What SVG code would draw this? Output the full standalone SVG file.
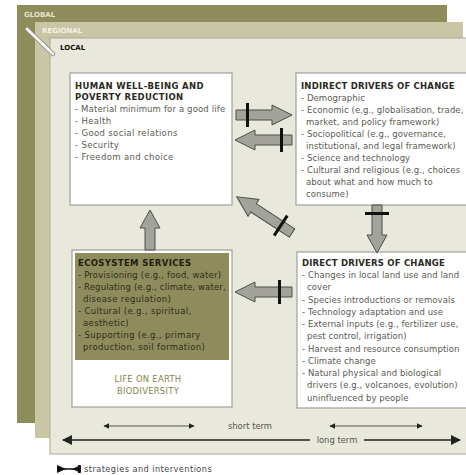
<svg xmlns="http://www.w3.org/2000/svg" width="466" height="475" viewBox="0 0 466 475">
<defs>
<style>
text{font-family:"DejaVu Sans",Verdana,sans-serif;}
.t{font-size:8.5px;letter-spacing:0.35px;fill:#5a5a52;}
.h{font-size:8.5px;letter-spacing:0.35px;font-weight:bold;fill:#2a2a22;}
.tr{font-size:8.5px;letter-spacing:0.08px;fill:#5a5a52;}
.hr{font-size:8.5px;letter-spacing:0.2px;font-weight:bold;fill:#2a2a22;}
.eco{font-size:8.5px;letter-spacing:0.35px;fill:#2e2d18;}
.box{fill:#ffffff;stroke:#a0a09a;stroke-width:1.2;}
.fat{fill:#a3a39c;stroke:#4e4e4a;stroke-width:1;}
.bar{fill:#111;}
.tl{stroke:#55554e;fill:none;}
</style>
<marker id="ah" viewBox="0 0 10 10" refX="9" refY="5" markerWidth="6" markerHeight="6" orient="auto-start-reverse" markerUnits="userSpaceOnUse"><path d="M0,0 L10,5 L0,10 Z" fill="#222"/></marker>
<marker id="ahL" viewBox="0 0 10 10" refX="9" refY="5" markerWidth="10" markerHeight="10" orient="auto-start-reverse" markerUnits="userSpaceOnUse"><path d="M0,0 L10,5 L0,10 Z" fill="#222"/></marker>
<clipPath id="cpE"><rect x="75" y="253" width="154" height="107"/></clipPath>
</defs>

<g id="layers">
<rect x="17" y="5" width="430" height="418" fill="#8e8c5a"/>
<rect x="35" y="22" width="428" height="416" fill="#c8c6a4"/>
<rect x="50" y="38" width="430" height="416" fill="#e9e8dc" stroke="#a9a89a" stroke-width="1"/>
<text x="24" y="17" style="font-size:7px;font-weight:bold;fill:#e6e5cf">GLOBAL</text>
<text x="42" y="33" style="font-size:7px;font-weight:bold;fill:#f2f1e4">REGIONAL</text>
<text x="60" y="50" style="font-size:7px;font-weight:bold;fill:#111">LOCAL</text>
<path d="M27,29 L53,54" stroke="#8c8c84" stroke-width="4.5" stroke-linecap="round"/>
<path d="M27,29 L53,54" stroke="#ffffff" stroke-width="2.6" stroke-linecap="round"/>
</g>

<g id="human">
<rect class="box" x="70" y="73" width="162" height="132"/>
<text class="h" x="75" y="89">HUMAN WELL-BEING AND</text>
<text class="h" x="75" y="100">POVERTY REDUCTION</text>
<text class="t" x="75" y="112" style="letter-spacing:0.15px">- Material minimum for a good life</text>
<text class="t" x="75" y="124">- Health</text>
<text class="t" x="75" y="136">- Good social relations</text>
<text class="t" x="75" y="148">- Security</text>
<text class="t" x="75" y="160">- Freedom and choice</text>
</g>

<g id="indirect">
<rect class="box" x="296" y="73" width="185" height="132"/>
<text class="hr" x="301" y="89">INDIRECT DRIVERS OF CHANGE</text>
<text class="tr" x="301" y="101">- Demographic</text>
<text class="tr" x="301" y="113">- Economic (e.g., globalisation, trade,</text>
<text class="tr" x="306" y="125">market, and policy framework)</text>
<text class="tr" x="301" y="137">- Sociopolitical (e.g., governance,</text>
<text class="tr" x="306" y="149">institutional, and legal framework)</text>
<text class="tr" x="301" y="161">- Science and technology</text>
<text class="tr" x="301" y="173">- Cultural and religious (e.g., choices</text>
<text class="tr" x="306" y="185">about what and how much to</text>
<text class="tr" x="306" y="197">consume)</text>
</g>

<g id="direct">
<rect class="box" x="297" y="252" width="185" height="156"/>
<text class="hr" x="302" y="266">DIRECT DRIVERS OF CHANGE</text>
<text class="tr" x="302" y="278">- Changes in local land use and land</text>
<text class="tr" x="307" y="290">cover</text>
<text class="tr" x="302" y="303">- Species introductions or removals</text>
<text class="tr" x="302" y="315">- Technology adaptation and use</text>
<text class="tr" x="302" y="327">- External inputs (e.g., fertilizer use,</text>
<text class="tr" x="307" y="339">pest control, irrigation)</text>
<text class="tr" x="302" y="352">- Harvest and resource consumption</text>
<text class="tr" x="302" y="364">- Climate change</text>
<text class="tr" x="302" y="376">- Natural physical and biological</text>
<text class="tr" x="307" y="388">drivers (e.g., volcanoes, evolution)</text>
<text class="tr" x="307" y="401">uninfluenced by people</text>
</g>

<g id="ecosystem">
<rect class="box" x="72" y="250" width="160" height="157"/>
<rect x="75" y="253" width="154" height="107" fill="#8e8c5c"/>
<text class="h" x="78" y="266" style="fill:#1e1d10">ECOSYSTEM SERVICES</text>
<text class="eco" x="78" y="278" style="letter-spacing:0.2px">- Provisioning (e.g., food, water)</text>
<text class="eco" x="78" y="290" style="letter-spacing:0.15px">- Regulating (e.g., climate, water,</text>
<text class="eco" x="83" y="302">disease regulation)</text>
<text class="eco" x="78" y="314">- Cultural (e.g., spiritual,</text>
<text class="eco" x="83" y="326">aesthetic)</text>
<text class="eco" x="78" y="338">- Supporting (e.g., primary</text>
<text class="eco" x="83" y="350">production, soil formation)</text>
<text x="148" y="382" text-anchor="middle" style="font-size:8.4px;letter-spacing:0.3px;fill:#85834c">LIFE ON EARTH</text>
<text x="148" y="394" text-anchor="middle" style="font-size:8.4px;letter-spacing:0.3px;fill:#85834c">BIODIVERSITY</text>
</g>

<g id="connectors">
<g transform="translate(236,115)">
<path class="fat" d="M0,-5 H36 V-10 L56,0 L36,10 V5 H0 Z"/>
<rect class="bar" x="10" y="-12" width="3" height="24"/>
</g>
<g transform="translate(292,140) rotate(180)">
<path class="fat" d="M0,-5 H37 V-10 L57,0 L37,10 V5 H0 Z"/>
<rect class="bar" x="9" y="-12" width="3" height="24"/>
</g>
<g transform="translate(292,233) rotate(213.2)">
<path class="fat" d="M0,-5 H46 V-10 L66,0 L46,10 V5 H0 Z"/>
<rect class="bar" x="12" y="-12" width="3" height="24"/>
</g>
<g transform="translate(292,292) rotate(180)">
<path class="fat" d="M0,-5 H37 V-10 L57,0 L37,10 V5 H0 Z"/>
<rect class="bar" x="11" y="-12" width="3" height="24"/>
</g>
<g transform="translate(150,250) rotate(-90)">
<path class="fat" d="M0,-5 H22 V-10 L40,0 L22,10 V5 H0 Z"/>
</g>
<g transform="translate(377,205) rotate(90)">
<path class="fat" d="M0,-5 H30 V-10 L48,0 L30,10 V5 H0 Z"/>
<rect class="bar" x="7" y="-12" width="3" height="24"/>
</g>

<line class="tl" x1="104" y1="426" x2="194" y2="426" stroke-width="1" marker-start="url(#ah)" marker-end="url(#ah)"/>
<line class="tl" x1="330" y1="426" x2="422" y2="426" stroke-width="1" marker-start="url(#ah)" marker-end="url(#ah)"/>
<text x="250" y="429" text-anchor="middle" style="font-size:8.4px;fill:#55554e">short term</text>
<line class="tl" x1="63" y1="440" x2="310" y2="440" stroke-width="2" marker-start="url(#ahL)"/>
<line class="tl" x1="364" y1="440" x2="460" y2="440" stroke-width="2" marker-end="url(#ahL)"/>
<text x="337" y="443" text-anchor="middle" style="font-size:8.4px;fill:#55554e">long term</text>
</g>

<g id="legend">
<polygon points="57,465 66,469 57,473" fill="#111"/>
<line x1="64" y1="469" x2="74" y2="469" stroke="#111" stroke-width="1.5"/>
<polygon points="81,465 72,469 81,473" fill="#111"/>
<rect x="78" y="465" width="2" height="8" fill="#111"/>
<text x="84" y="472" style="font-size:8.2px;letter-spacing:0.45px;fill:#444">strategies and interventions</text>
</g>
</svg>
